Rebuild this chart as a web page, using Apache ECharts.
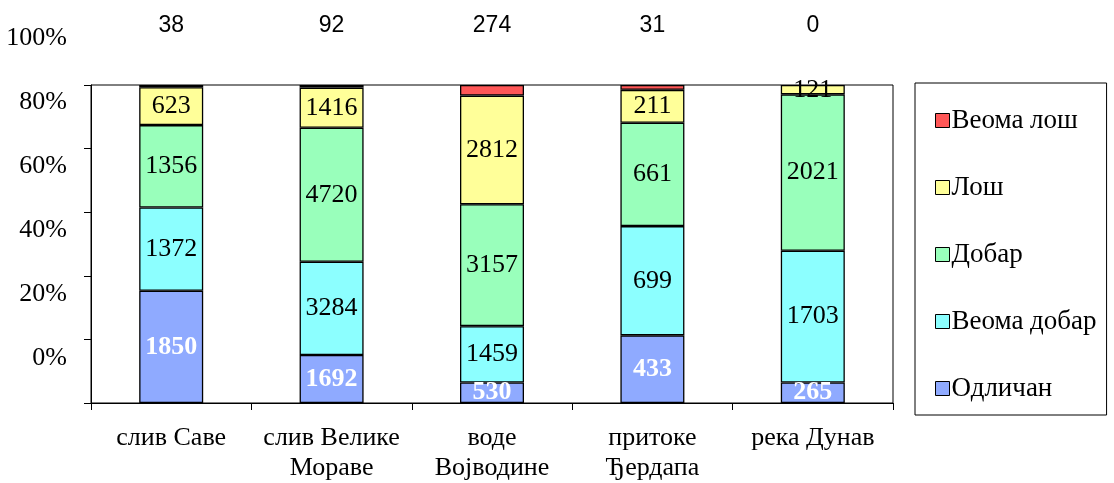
<!DOCTYPE html>
<html>
<head>
<meta charset="utf-8">
<title>chart</title>
<script src="https://cdn.jsdelivr.net/npm/echarts@6/dist/echarts.min.js"></script>
<style>
  html, body { margin: 0; padding: 0; background: #fff; }
  #main { width: 1114px; height: 483px; }
</style>
</head>
<body>
<div id="main"></div>
<script>
// категорије и вредности по класама
const categories = ["слив Саве", "слив Велике\nМораве", "воде\nВојводине", "притоке\nЂердапа", "река Дунав"];
const odlican = [1850, 1692, 530, 433, 265];
const veomaDobar = [1372, 3284, 1459, 699, 1703];
const dobar = [1356, 4720, 3157, 661, 2021];
const los = [623, 1416, 2812, 211, 121];
const veomaLos = [38, 92, 274, 31, 0];
const yTicks = [0, 20, 40, 60, 80, 100];

const serif = "Liberation Serif";
const totals = categories.map((c, i) => odlican[i] + veomaDobar[i] + dobar[i] + los[i] + veomaLos[i]);
const pct = arr => arr.map((v, i) => v / totals[i] * 100);

function makeSeries(name, arr, color, labelStyle) {
  return {
    name: name,
    type: "bar",
    stack: "total",
    barWidth: 64,
    data: pct(arr),
    itemStyle: { color: color, borderColor: "#000", borderWidth: 1.3 },
    label: Object.assign({
      show: true,
      position: "inside",
      fontFamily: serif,
      fontSize: 26,
      color: "#000",
      formatter: p => String(arr[p.dataIndex]),
    }, labelStyle || {}),
  };
}

const chart = echarts.init(document.getElementById("main"));
chart.setOption({
  animation: false,
  backgroundColor: "#fff",
  grid: [{
    left: 91, right: 221, top: 85, bottom: 78,
    show: true, borderColor: "#000", borderWidth: 1,
  }, {
    // помоћна мрежа само за натписе на y-оси (у оригиналу су померени навише)
    left: 91, right: 221, top: 38, bottom: 125,
  }],
  legend: {
    orient: "vertical",
    left: 915,
    top: 83,
    padding: [24, 10, 13, 20],
    itemGap: 40,
    itemWidth: 14,
    itemHeight: 14,
    borderColor: "#000",
    borderWidth: 1,
    icon: "rect",
    itemStyle: { borderColor: "#000", borderWidth: 1 },
    data: ["Веома лош", "Лош", "Добар", "Веома добар", "Одличан"],
    textStyle: { fontFamily: serif, fontSize: 27, color: "#000", padding: [0, 0, 0, -3] },
  },
  xAxis: [{
    type: "category",
    data: categories,
    axisLine: { lineStyle: { color: "#000", width: 1 } },
    axisTick: { show: true, length: 7, lineStyle: { color: "#000" } },
    axisLabel: {
      fontFamily: serif, fontSize: 26, color: "#000",
      lineHeight: 30, margin: 20, interval: 0,
    },
  }, {
    // збирови „Веома лош“ изнад стубова
    type: "category",
    position: "top",
    data: categories,
    axisLine: { show: false },
    axisTick: { show: false },
    axisLabel: {
      fontFamily: "Liberation Sans", fontSize: 23, color: "#000",
      margin: 48, interval: 0,
      formatter: (v, i) => String(veomaLos[i]),
    },
  }, {
    type: "category",
    gridIndex: 1,
    data: categories,
    show: false,
  }],
  yAxis: [{
    type: "value",
    min: yTicks[0],
    max: yTicks[yTicks.length - 1],
    interval: 20,
    splitLine: { show: false },
    axisLine: { show: true, lineStyle: { color: "#000", width: 1 } },
    axisTick: { show: true, length: 7, lineStyle: { color: "#000" } },
    axisLabel: { show: false },
  }, {
    type: "value",
    gridIndex: 1,
    min: yTicks[0],
    max: yTicks[yTicks.length - 1],
    interval: 20,
    splitLine: { show: false },
    axisLine: { show: false },
    axisTick: { show: false },
    axisLabel: {
      fontFamily: serif, fontSize: 26, color: "#000",
      margin: 24,
      formatter: "{value}%",
    },
  }],
  series: [
    makeSeries("Одличан", odlican, "#8FAAFF", { color: "#fff", fontWeight: "bold" }),
    makeSeries("Веома добар", veomaDobar, "#8CFFFF"),
    makeSeries("Добар", dobar, "#99FFBB"),
    makeSeries("Лош", los, "#FFFF99"),
    makeSeries("Веома лош", veomaLos, "#FF5757", { show: false }),
  ],
});
</script>
</body>
</html>
